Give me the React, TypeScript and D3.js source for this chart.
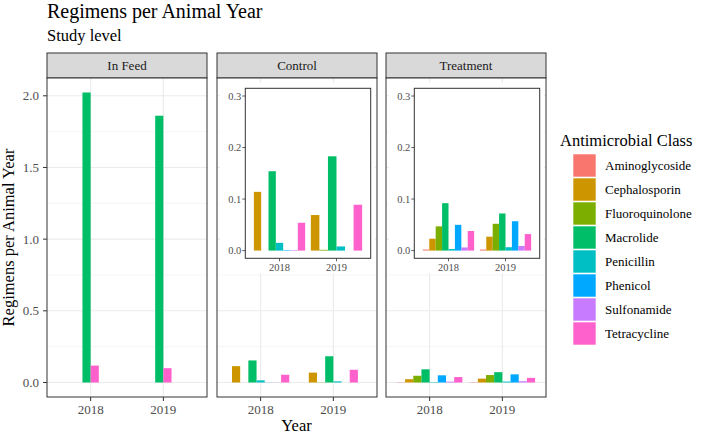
import * as d3 from "d3";

// ---- data ----
const years = ["2018", "2019"];
const classes = [
  "Aminoglycoside",
  "Cephalosporin",
  "Fluoroquinolone",
  "Macrolide",
  "Penicillin",
  "Phenicol",
  "Sulfonamide",
  "Tetracycline",
];
const classColors = ["#F8766D", "#CD9600", "#7CAE00", "#00BE67", "#00BFC4", "#00A9FF", "#C77CFF", "#FF61CC"];
const facetNames = ["In Feed", "Control", "Treatment"];

// null = class not present for that year
const inFeed2018 = [null, null, null, 2.023, null, null, null, 0.118];
const inFeed2019 = [null, null, null, 1.861, null, null, null, 0.1];
const control2018 = [null, 0.114, 0, 0.154, 0.015, 0.001, 0.001, 0.054];
const control2019 = [null, 0.069, 0.0015, 0.183, 0.008, null, 0, 0.089];
const treatment2018 = [0.002, 0.023, 0.047, 0.092, 0.003, 0.05, 0.006, 0.038];
const treatment2019 = [0.002, 0.027, 0.052, 0.072, 0.0065, 0.057, 0.009, 0.032];

const mainTicks = [0, 0.5, 1, 1.5, 2];
const mainMinor = [0.25, 0.75, 1.25, 1.75];
const insetTicks = [0, 0.1, 0.2, 0.3];

const facetData: (number | null)[][][] = [
  [inFeed2018, inFeed2019],
  [control2018, control2019],
  [treatment2018, treatment2019],
];
const hasInset = [false, true, true];

const W = 708;
const H = 436;
const FONT = "'Liberation Serif', 'Times New Roman', serif";

const panelX = [47, 217, 386];
const panelW = 160;
const panelTop = 78;
const panelBottom = 397;
const stripTop = 53;

const allVals = facetData.flat(2).filter((v) => v != null) as number[];
const maxVal = d3.max(allVals) as number;
const y = d3
  .scaleLinear()
  .domain([-0.05 * maxVal, maxVal * 1.05])
  .range([panelBottom, panelTop]);

// inset geometry relative to panel left
const insetDx = 28.3;
const insetW = 125.4;
const insetTop = 88.3;
const insetBottom = 258.3;
const yIn = d3.scaleLinear().domain([-0.015, 0.315]).range([insetBottom, insetTop]);

const fmt = d3.format(".1f");

function Panel({ fi }: { fi: number }) {
  const x0 = panelX[fi];
  const x = d3.scalePoint<string>().domain(years).range([x0, x0 + panelW]).padding(0.6);
  const barW = (x.step() * 0.9) / classes.length;
  const data = facetData[fi];

  const bars = years.flatMap((yr, yi) => {
    const present = data[yi].map((v, ci) => ({ v, ci })).filter((d) => d.v != null);
    const start = (x(yr) as number) - (present.length * barW) / 2;
    return present.map((d, k) => (
      <rect
        key={`${yr}-${d.ci}`}
        x={start + k * barW}
        width={barW}
        y={y(d.v as number)}
        height={Math.max(0, y(0) - y(d.v as number))}
        fill={classColors[d.ci]}
      />
    ));
  });

  let inset = null;
  if (hasInset[fi]) {
    const ix0 = x0 + insetDx;
    const xi = d3.scalePoint<string>().domain(years).range([ix0, ix0 + insetW]).padding(0.6);
    const ibars = years.flatMap((yr, yi) => {
      const present = data[yi].map((v, ci) => ({ v, ci })).filter((d) => d.v != null);
      const bw = (xi.step() * 0.9) / present.length;
      const start = (xi(yr) as number) - (present.length * bw) / 2;
      return present.map((d, k) => (
        <rect
          key={`i${yr}-${d.ci}`}
          x={start + k * bw}
          width={bw}
          y={yIn(d.v as number)}
          height={Math.max(0, yIn(0) - yIn(d.v as number))}
          fill={classColors[d.ci]}
        />
      ));
    });
    inset = (
      <g>
        <rect x={x0 + 3} y={panelTop + 5} width={panelW - 5} height={273.5 - panelTop - 5} fill="#fff" />
        {ibars}
        <rect x={ix0} y={insetTop} width={insetW} height={insetBottom - insetTop} fill="none" stroke="#333" strokeWidth={1} />
        {insetTicks.map((t) => (
          <g key={t}>
            <line x1={ix0 - 3} x2={ix0} y1={yIn(t)} y2={yIn(t)} stroke="#333" strokeWidth={0.8} />
            <text x={ix0 - 4} y={yIn(t)} dy="0.35em" textAnchor="end" fontSize={10.5} fill="#4d4d4d" fontFamily={FONT}>
              {fmt(t)}
            </text>
          </g>
        ))}
        {years.map((yr) => (
          <g key={yr}>
            <line x1={xi(yr)} x2={xi(yr)} y1={insetBottom} y2={insetBottom + 3} stroke="#333" strokeWidth={0.8} />
            <text x={xi(yr)} y={insetBottom + 13} textAnchor="middle" fontSize={10.5} fill="#4d4d4d" fontFamily={FONT}>
              {yr}
            </text>
          </g>
        ))}
      </g>
    );
  }

  return (
    <g>
      {/* strip */}
      <rect x={x0} y={stripTop} width={panelW} height={panelTop - stripTop} fill="#d9d9d9" stroke="#333" strokeWidth={1} />
      <text x={x0 + panelW / 2} y={69.5} textAnchor="middle" fontSize={13} fill="#1a1a1a" fontFamily={FONT}>
        {facetNames[fi]}
      </text>
      {/* grid */}
      <rect x={x0} y={panelTop} width={panelW} height={panelBottom - panelTop} fill="#fff" />
      {mainMinor.map((t) => (
        <line key={`m${t}`} x1={x0} x2={x0 + panelW} y1={y(t)} y2={y(t)} stroke="#f0f0f0" strokeWidth={0.7} />
      ))}
      {mainTicks.map((t) => (
        <line key={`M${t}`} x1={x0} x2={x0 + panelW} y1={y(t)} y2={y(t)} stroke="#ebebeb" strokeWidth={1.1} />
      ))}
      {years.map((yr) => (
        <line key={yr} x1={x(yr)} x2={x(yr)} y1={panelTop} y2={panelBottom} stroke="#ebebeb" strokeWidth={1.1} />
      ))}
      {bars}
      {inset}
      <rect x={x0} y={panelTop} width={panelW} height={panelBottom - panelTop} fill="none" stroke="#333" strokeWidth={1} />
      {/* x axis */}
      {years.map((yr) => (
        <g key={`xa${yr}`}>
          <line x1={x(yr)} x2={x(yr)} y1={panelBottom} y2={panelBottom + 4} stroke="#333" strokeWidth={1} />
          <text x={x(yr)} y={414} textAnchor="middle" fontSize={13} fill="#4d4d4d" fontFamily={FONT}>
            {yr}
          </text>
        </g>
      ))}
    </g>
  );
}

export default function App() {
  const legendTop = 153.5;
  const rowH = 24;
  return (
    <div style={{ position: "absolute", left: 0, top: 0 }}>
      <svg width={W} height={H} viewBox={`0 0 ${W} ${H}`} style={{ display: "block", background: "#fff" }}>
        <text x={47} y={17.5} fontSize={20} fontFamily={FONT} fill="#000">
          Regimens per Animal Year
        </text>
        <text x={47} y={40.7} fontSize={16.5} fontFamily={FONT} fill="#000">
          Study level
        </text>

        {facetNames.map((_, fi) => (
          <Panel key={fi} fi={fi} />
        ))}

        {/* y axis */}
        {mainTicks.map((t) => (
          <g key={t}>
            <line x1={43} x2={47} y1={y(t)} y2={y(t)} stroke="#333" strokeWidth={1} />
            <text x={39} y={y(t)} dy="0.35em" textAnchor="end" fontSize={13} fill="#4d4d4d" fontFamily={FONT}>
              {fmt(t)}
            </text>
          </g>
        ))}
        <text
          transform={`translate(14,${(panelTop + panelBottom) / 2}) rotate(-90)`}
          textAnchor="middle"
          fontSize={16.5}
          fontFamily={FONT}
          fill="#000"
        >
          Regimens per Animal Year
        </text>
        <text x={(panelX[0] + panelX[2] + panelW) / 2} y={431} textAnchor="middle" fontSize={16.5} fontFamily={FONT} fill="#000">
          Year
        </text>

        {/* legend */}
        <text x={560} y={146} fontSize={16.5} fontFamily={FONT} fill="#000">
          Antimicrobial Class
        </text>
        {classes.map((c, i) => (
          <g key={c}>
            <rect x={573.3} y={legendTop + i * rowH + 0.8} width={22.4} height={22.4} fill={classColors[i]} />
            <text x={605} y={legendTop + i * rowH + 12} dy="0.35em" fontSize={13} fontFamily={FONT} fill="#000">
              {c}
            </text>
          </g>
        ))}
      </svg>
    </div>
  );
}
